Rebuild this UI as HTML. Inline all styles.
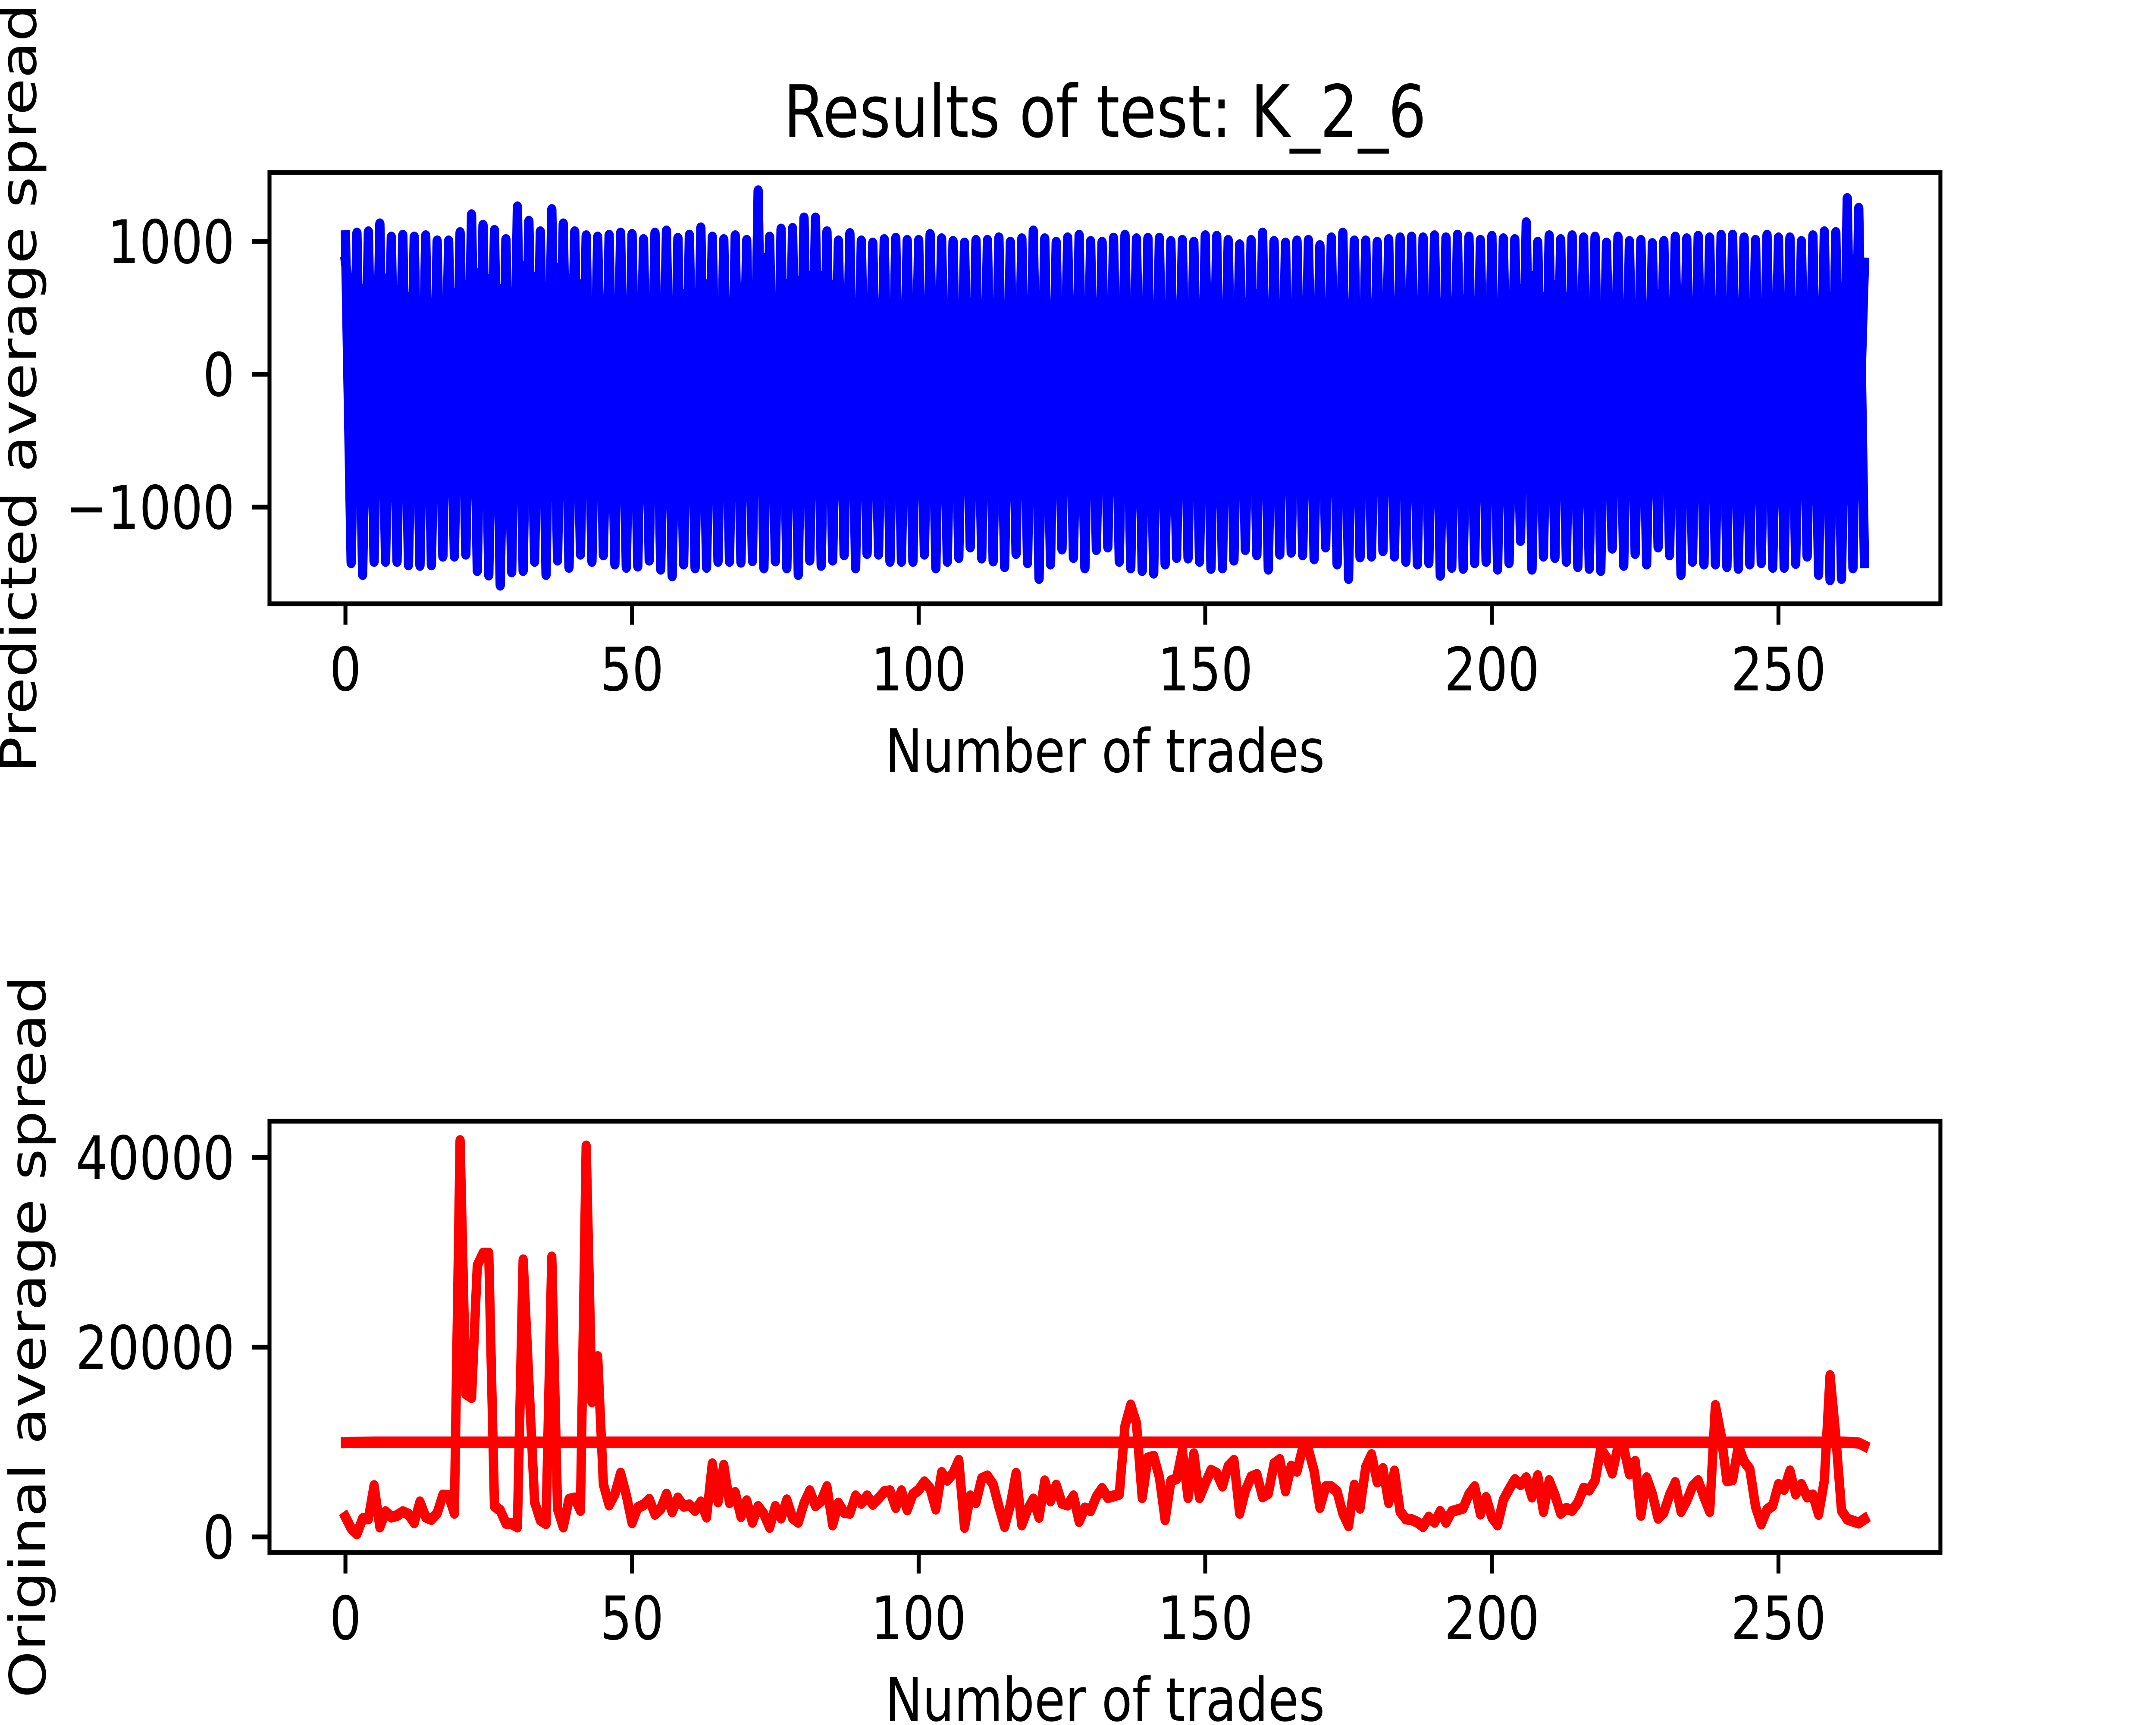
<!DOCTYPE html>
<html>
<head>
<meta charset="utf-8">
<style>
html,body{margin:0;padding:0;background:#fff;overflow:hidden;width:100%;height:100%;}
svg{display:block;width:100vw;height:100vh;}
text{font-family:"DejaVu Sans","Liberation Sans",sans-serif;fill:#000;}
</style>
</head>
<body>
<svg id="fig" xmlns="http://www.w3.org/2000/svg" viewBox="0 0 6000 4000" preserveAspectRatio="none">
<rect x="0" y="0" width="6000" height="4000" fill="#fff"/>
<g id="top"></g>
<g id="bot"></g>
<text x="3075" y="317" font-size="167" text-anchor="middle">Results of test: K_2_6</text>
<text x="3075" y="1790" font-size="139" text-anchor="middle">Number of trades</text>
<text x="3075" y="3990" font-size="139" text-anchor="middle">Number of trades</text>
<text transform="translate(100,900) rotate(-90)" font-size="139" text-anchor="middle">Predicted average spread</text>
<text transform="translate(126,3100) rotate(-90)" font-size="139" text-anchor="middle">Original average spread</text>
</svg>
<script>
// ---- data ----
const xTicks = [0, 50, 100, 150, 200, 250];
const topYTicks = [-1000, 0, 1000];
const topYTickLabels = ["\u22121000", "0", "1000"];
const botYTicks = [0, 20000, 40000];
const botYTickLabels = ["0", "20000", "40000"];

const predictedA = [
1042,-1417,1062,-1506,1072,-1407,1131,-1407,1032,-1407,
1046,-1433,1032,-1437,1042,-1433,1003,-1368,1003,-1368,
1066,-1353,1200,-1476,1121,-1510,1082,-1586,1013,-1486,
1259,-1476,1151,-1407,1072,-1506,1239,-1398,1131,-1452,
1072,-1353,1042,-1407,1032,-1358,1046,-1427,1062,-1452,
1052,-1443,1013,-1398,1062,-1466,1078,-1516,1023,-1427,
1046,-1456,1101,-1452,1032,-1407,1013,-1407,1042,-1413,
1007,-1402,1380,-1456,1032,-1404,1092,-1456,1097,-1506,
1176,-1398,1176,-1437,1072,-1398,1003,-1358,1058,-1456,
1003,-1348,987,-1353,1013,-1407,1023,-1407,1007,-1407,
1007,-1353,1052,-1456,1019,-1407,999,-1378,987,-1299,
1007,-1382,1007,-1404,1026,-1447,993,-1348,1019,-1417,
1078,-1536,1019,-1427,993,-1314,1026,-1378,1046,-1456,
999,-1318,993,-1299,1023,-1407,1046,-1456,1019,-1476,
1023,-1496,1023,-1427,999,-1378,1007,-1382,993,-1407,
1042,-1460,1038,-1456,1007,-1398,974,-1318,1007,-1358,
1062,-1466,999,-1353,987,-1338,1003,-1358,1007,-1388,
968,-1299,1026,-1427,1062,-1536,1003,-1374,1003,-1368,
993,-1327,1013,-1368,1026,-1407,1032,-1427,1026,-1417,
1042,-1512,1026,-1452,1046,-1460,1032,-1417,1007,-1407,
1038,-1466,1019,-1417,1013,-1250,1140,-1466,993,-1368,
1042,-1378,1013,-1407,1042,-1447,1026,-1460,1032,-1476,
987,-1308,1032,-1437,999,-1348,1007,-1427,983,-1299,
999,-1358,1032,-1506,1019,-1407,1038,-1427,1026,-1427,
1046,-1447,1046,-1460,1026,-1427,1007,-1417,1046,-1452,
1026,-1452,1026,-1423,999,-1368,1042,-1506,1072,-1546,
1066,-1536,1322,-1456,1249,-1417
];
const predictedB = [
845,500,-600,636,-600,686,-600,716,-600,633,
-600,578,-600,548,-600,480,-600,480,-600,608,
-600,667,-600,756,-600,712,-600,636,-600,602,
-600,810,-600,728,-600,657,-600,798,-600,716,
-600,673,-600,543,-600,523,-600,562,-600,493,
-600,446,-600,464,-600,474,-600,351,-600,598,
-600,606,-600,673,-600,548,-600,332,-600,647,
-600,598,-600,873,-600,558,-600,676,-600,700,
-600,735,-600,738,-600,667,-600,602,-600,454,
-600,466,-600,430,-600,401,-600,356,-600,420,
-600,460,-600,224,-600,195,-600,302,-600,302,
-600,367,-600,464,-600,351,-600,381,-600,347,
-600,361,-600,356,-600,367,-600,395,-600,414,
-600,420,-600,490,-600,312,-600,195,-600,332,
-600,312,-600,351,-600,262,-600,243,-600,282,
-600,253,-600,414,-600,476,-600,538,-600,598,
-600,528,-600,518,-600,490,-600,470,-600,430,
-600,273,-600,253,-600,282,-600,391,-600,460,
-600,377,-600,460,-600,444,-600,318,-600,480,
-600,532,-600,543,-600,562,-600,543,-600,503,
-600,503,-600,480,-600,636,-600,735,-600,578,
-600,667,-600,578,-600,528,-600,509,-600,470,
-600,391,-600,234,-600,253,-600,342,-600,598,
-600,391,-600,292,-600,401,-600,470,-600,490,
-600,414,-600,470,-600,371,-600,401,-600,470,
-600,490,-600,548,-600,523,-600,500,-600,578,
-600,401,-600,853,-600,836
];
const originalSpread = [
2100,910,336,1925,1925,5400,1060,2650,2100,2250,
2650,2400,1500,3680,2100,1850,2500,4400,4350,2500,
41770,15100,14700,28600,29900,29900,3240,2800,1450,1400,
1060,29200,16400,3680,1780,1400,29500,2950,1060,3960,
4100,2800,41200,14250,19000,5550,3380,4500,6700,4400,
1500,3100,3380,3960,2400,2950,4500,2650,4100,3240,
3380,2800,3680,2100,7700,3700,7550,3630,4680,2150,
3800,1550,3200,2400,1020,3200,2000,3900,2000,1550,
3550,4860,3300,3800,5290,1280,3550,2590,2500,4320,
3550,4320,3450,4060,4770,4860,3110,4860,2860,4500,
4950,5800,5110,2950,6780,5990,6700,8070,1020,4320,
3630,6150,6420,5540,3200,1100,3370,6700,1280,2860,
3990,2080,5900,3800,5450,3550,3370,4320,1640,3040,
2770,4240,5110,4150,4320,4500,11700,13900,12000,4150,
8320,8500,6320,1820,5900,6150,9110,4150,8760,4150,
5630,7020,6700,5370,7450,8070,2500,4860,6320,6580,
4240,4590,7720,8150,4860,7450,6940,9370,9200,6940,
3110,5290,5290,4770,2500,1190,5450,3040,7370,8670,
5800,7200,3630,6940,2680,1900,1820,1550,1100,2080,
1550,2680,1550,2680,2860,3040,4500,5290,2420,4150,
2080,1280,3900,5020,6040,5530,6230,4220,6450,2690,
5930,4420,2490,3000,2800,3600,5130,4950,5930,9280,
8380,6740,9500,9420,6650,7960,2290,6230,4520,1980,
2570,4420,5730,2690,3800,5330,5930,4220,2690,13850,
10700,5930,6040,9590,7960,7150,3200,1370,2890,3300,
5530,5020,6950,4520,5530,4220,4420,2390,5930,17000,
10600,2790,1880,1670,1470,1880
];
const flatSpread = [
9950,9960,9970,9980,9990,10000,10000,10000,10000,10000,10000,10000,10000,10000,10000,10000,10000,10000,10000,10000,
10000,10000,10000,10000,10000,10000,10000,10000,10000,10000,10000,10000,10000,10000,10000,10000,10000,10000,10000,10000,
10000,10000,10000,10000,10000,10000,10000,10000,10000,10000,10000,10000,10000,10000,10000,10000,10000,10000,10000,10000,
10000,10000,10000,10000,10000,10000,10000,10000,10000,10000,10000,10000,10000,10000,10000,10000,10000,10000,10000,10000,
10000,10000,10000,10000,10000,10000,10000,10000,10000,10000,10000,10000,10000,10000,10000,10000,10000,10000,10000,10000,
10000,10000,10000,10000,10000,10000,10000,10000,10000,10000,10000,10000,10000,10000,10000,10000,10000,10000,10000,10000,
10000,10000,10000,10000,10000,10000,10000,10000,10000,10000,10000,10000,10000,10000,10000,10000,10000,10000,10000,10000,
10000,10000,10000,10000,10000,10000,10000,10000,10000,10000,10000,10000,10000,10000,10000,10000,10000,10000,10000,10000,
10000,10000,10000,10000,10000,10000,10000,10000,10000,10000,10000,10000,10000,10000,10000,10000,10000,10000,10000,10000,
10000,10000,10000,10000,10000,10000,10000,10000,10000,10000,10000,10000,10000,10000,10000,10000,10000,10000,10000,10000,
10000,10000,10000,10000,10000,10000,10000,10000,10000,10000,10000,10000,10000,10000,10000,10000,10000,10000,10000,10000,
10000,10000,10000,10000,10000,10000,10000,10000,10000,10000,10000,10000,10000,10000,10000,10000,10000,10000,10000,10000,
10000,10000,10000,10000,10000,10000,10000,10000,10000,10000,10000,10000,10000,10000,10000,10000,10000,10000,10000,10000,
10000,10000,9980,9950,9900,9600
];

// ---- axes ----
const NS = "http://www.w3.org/2000/svg";
const AX_L = 750, AX_R = 5400;
const XMIN = -13.25, XMAX = 278.25;
function xPos(i){ return AX_L + (i - XMIN) * (AX_R - AX_L) / (XMAX - XMIN); }
const TOP = {y0: 400, y1: 1400, vmin: -1727, vmax: 1519};
const BOT = {y0: 2600, y1: 3600, vmin: -1640, vmax: 43820};
function yPos(ax, v){ return ax.y0 + (ax.vmax - v) * (ax.y1 - ax.y0) / (ax.vmax - ax.vmin); }

function mk(tag, attrs, parent){
  const el = document.createElementNS(NS, tag);
  for (const k in attrs) el.setAttribute(k, attrs[k]);
  parent.appendChild(el);
  return el;
}
function linePath(ax, vals){
  let d = "";
  for (let i = 0; i < vals.length; i++){
    d += (i ? "L" : "M") + xPos(i).toFixed(1) + "," + yPos(ax, vals[i]).toFixed(1);
  }
  return d;
}

function drawAxes(g, ax, yTicks, yLabels, prefix){
  for (let k = 0; k < xTicks.length; k++){
    const x = xPos(xTicks[k]);
    const t = mk("line", {x1:x, x2:x, y1:ax.y1, y2:ax.y1+48.6, stroke:"#000", "stroke-width":11}, g);
    
    
    const lb = mk("text", {x:x, y:ax.y1+201, "font-size":139, "text-anchor":"middle"}, g);
    lb.textContent = String(xTicks[k]);
    
    
  }
  for (let k = 0; k < yTicks.length; k++){
    const y = yPos(ax, yTicks[k]);
    const t = mk("line", {x1:AX_L-48.6, x2:AX_L, y1:y, y2:y, stroke:"#000", "stroke-width":11}, g);
    
    
    const lb = mk("text", {x:AX_L-97, y:y+50, "font-size":139, "text-anchor":"end"}, g);
    lb.textContent = yLabels[k];
    
    
  }
}
function drawFrame(g, ax, prefix){
  const r = mk("rect", {x:AX_L, y:ax.y0, width:AX_R-AX_L, height:ax.y1-ax.y0, fill:"none", stroke:"#000", "stroke-width":11}, g);
  
  
}
function drawSeries(g, ax, vals, color, name){
  const p = mk("path", {d:linePath(ax, vals), fill:"none", stroke:color, "stroke-width":26, "stroke-linejoin":"round", "stroke-linecap":"square"}, g);
  
  
}

const gTop = document.getElementById("top");
const gBot = document.getElementById("bot");
drawSeries(gTop, TOP, predictedA, "#0000ff", "predicted-series-a");
drawSeries(gTop, TOP, predictedB, "#0000ff", "predicted-series-b");
drawAxes(gTop, TOP, topYTicks, topYTickLabels, "top");
drawFrame(gTop, TOP, "top");
drawSeries(gBot, BOT, flatSpread, "#ff0000", "flat-spread-series");
drawSeries(gBot, BOT, originalSpread, "#ff0000", "original-spread-series");
drawAxes(gBot, BOT, botYTicks, botYTickLabels, "bottom");
drawFrame(gBot, BOT, "bottom");
</script>
</body>
</html>
